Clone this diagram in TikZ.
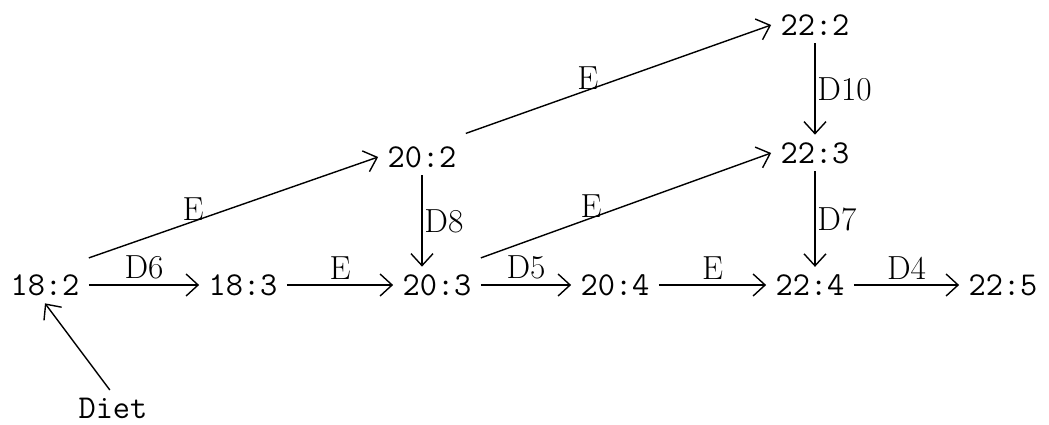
\documentclass[tikz,border=0pt]{standalone}
\usetikzlibrary{arrows.meta}
\begin{document}
\begin{tikzpicture}[x=0.02cm,y=0.02cm,
    acid/.style={font=\ttfamily\fontsize{19}{21}\selectfont, inner xsep=5pt, inner ysep=4pt},
    lab/.style={font=\fontsize{19}{21}\selectfont, inner sep=3pt},
    >={Straight Barb[length=2.4mm,width=4.4mm]}, thick]
    \useasboundingbox (0,0) rectangle (1049,424);
    % Acidos grasos
    \node[acid] (a182) at (45,139) {18:2};
    \node[acid] (a183) at (243,139) {18:3};
    \node[acid] (a203) at (437,139) {20:3};
    \node[acid] (a204) at (615,139) {20:4};
    \node[acid] (a224) at (810,139) {22:4};
    \node[acid] (a225) at (1003,139) {22:5};
    \node[acid] (a202) at (422,267) {20:2};
    \node[acid] (a223) at (815,271) {22:3};
    \node[acid] (a222) at (815,399) {22:2};
    \node[acid] (diet) at (113,16) {Diet};
    % Desaturaciones y elongaciones horizontales
    \draw[->] (a182) -- node[lab, above] {D6} (a183);
    \draw[->] (a183) -- node[lab, above] {E} (a203);
    \draw[->] (a203) -- node[lab, above] {D5} (a204);
    \draw[->] (a204) -- node[lab, above] {E} (a224);
    \draw[->] (a224) -- node[lab, above] {D4} (a225);
    % Verticales
    \draw[->] (a202.south) -- node[lab, right, inner sep=1pt] {D8} (a202.south |- a203.north);
    \draw[->] (a222) -- node[lab, right, inner sep=1pt] {D10} (a223);
    \draw[->] (a223.south) -- node[lab, right, inner sep=1pt] {D7} (a223.south |- a224.north);
    % Elongaciones diagonales
    \draw[->] ([yshift=5pt]a182.north east) -- node[lab, pos=0.36, above, inner sep=0pt] {E} (a202.west);
    \draw[->] ([yshift=3pt]a202.north east) -- node[lab, pos=0.4, above, inner sep=0pt] {E} (a222.west);
    \draw[->] ([yshift=5pt]a203.north east) -- node[lab, pos=0.38, above, inner sep=0pt] {E} (a223.west);
    % Entrada de la dieta
    \draw[->] (diet.100) -- (a182.south);
\end{tikzpicture}
\end{document}
